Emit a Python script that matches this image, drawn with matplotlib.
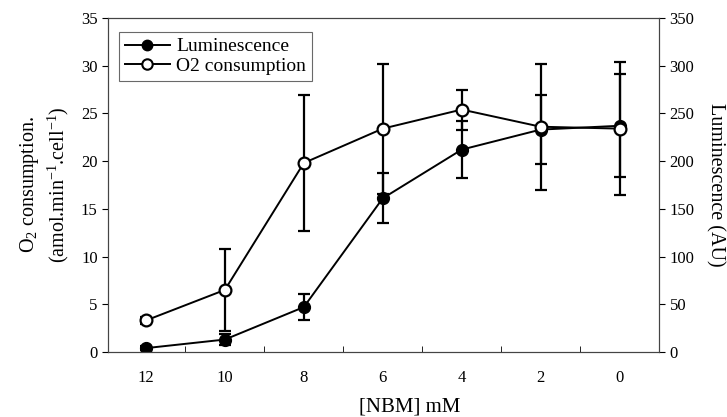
import numpy as np
import matplotlib
matplotlib.use("Agg")
import matplotlib.pyplot as plt
from matplotlib.lines import Line2D

plt.rcParams['font.family'] = ['Liberation Serif', 'DejaVu Serif']
plt.rcParams['mathtext.fontset'] = 'custom'
plt.rcParams['mathtext.rm'] = 'Liberation Serif'
plt.rcParams['mathtext.it'] = 'Liberation Serif:italic'

# data
nbm = ['12', '10', '8', '6', '4', '2', '0']
lum = [4, 13, 47, 161, 212, 233, 237]          # AU, right axis
lum_err = [2, 6, 14, 26, 30, 36, 54]
o2 = [3.3, 6.5, 19.8, 23.4, 25.4, 23.6, 23.4]  # amol/min/cell, left axis
o2_err = [0.4, 4.3, 7.1, 6.8, 2.1, 6.6, 7.0]

fig = plt.figure(figsize=(7.27, 4.17), dpi=100)
fig.subplots_adjust(left=0.1486, right=0.9065, top=0.957, bottom=0.156)
ax = fig.add_subplot(111)
ax2 = ax.twinx()

x = np.arange(len(nbm))

ax2.errorbar(x, lum, yerr=lum_err, color='black', lw=1.4, elinewidth=1.6,
             capsize=4.5, capthick=1.6, marker='o', ms=8.5, mfc='black', mec='black')
ax.errorbar(x, o2, yerr=o2_err, color='black', lw=1.4, elinewidth=1.6,
            capsize=4.5, capthick=1.6, marker='o', ms=8.5, mfc='white', mec='black',
            mew=1.6)

ax.set_zorder(ax2.get_zorder() + 1)
ax.patch.set_visible(False)

ax.set_xlim(-0.48, 6.5)
ax.set_ylim(0, 35)
ax2.set_ylim(0, 350)
ax.set_yticks(np.arange(0, 36, 5))
ax2.set_yticks(np.arange(0, 351, 50))
ax.set_xticks(x)
ax.set_xticklabels(nbm)
ax.set_xticks(x[:-1] + 0.5, minor=True)
ax.tick_params(axis='x', which='major', length=0, pad=13, labelsize=12)
ax.tick_params(axis='x', which='minor', direction='in', length=4)
ax.tick_params(axis='y', direction='out', length=4, labelsize=12)
ax2.tick_params(axis='y', direction='out', length=4, labelsize=12)

for a in (ax, ax2):
    for s in a.spines.values():
        s.set_linewidth(0.8)
        s.set_color('#444444')

ax.set_xlabel('[NBM] mM', fontsize=15, labelpad=8)
ax.xaxis.set_label_coords(0.548, -0.135)
ax.set_ylabel('O$_2$ consumption.\n(amol.min$^{-1}$.cell$^{-1}$)', fontsize=14.5,
              labelpad=7, linespacing=1.25)
ax2.set_ylabel('Luminescence (AU)', fontsize=14.5, rotation=270, labelpad=22)

handles = [
    Line2D([], [], color='black', lw=1.4, marker='o', ms=7.5, mfc='black', mec='black'),
    Line2D([], [], color='black', lw=1.4, marker='o', ms=7.5, mfc='white', mec='black', mew=1.5),
]
leg = ax.legend(handles, ['Luminescence', 'O2 consumption'], loc='upper left',
                bbox_to_anchor=(0.02, 0.958), fontsize=14, frameon=True, fancybox=False,
                edgecolor='#444444', handlelength=2.3, handletextpad=0.35,
                borderpad=0.3, labelspacing=0.1, borderaxespad=0.0)
leg.get_frame().set_linewidth(0.8)

fig.savefig('out.png', dpi=100)
